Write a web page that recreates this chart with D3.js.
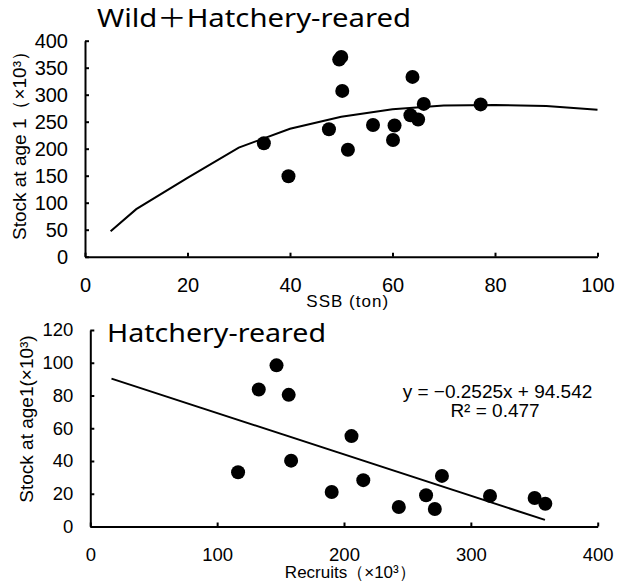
<!DOCTYPE html>
<html>
<head>
<meta charset="utf-8">
<script src="https://cdn.jsdelivr.net/npm/d3@7"></script>
<style>
  body { margin: 0; background: #fff; }
  svg { display: block; }
</style>
</head>
<body>
<div id="chart"></div>
<script>
// Top panel: wild + hatchery-reared, SSB vs stock at age 1
var ssb = [34.9, 39.7, 47.6, 49.6, 50.0, 50.2, 51.3, 56.2, 60.1, 60.4, 63.9, 63.5, 65.0, 66.1, 77.2]
var stockAll = [210, 149, 236, 365, 370, 307, 198, 244, 216, 243, 333, 262, 254, 283, 282]
var curveSSB = [5, 10, 20, 30, 40, 50, 60, 70, 80, 90, 100]
var curveStock = [47, 88, 146, 202, 237, 259, 273, 280, 281, 279, 272]
var ssbTicks = [0, 20, 40, 60, 80, 100]
var stockAllTicks = [0, 50, 100, 150, 200, 250, 300, 350, 400]

// Bottom panel: hatchery-reared, recruits vs stock at age 1
var recruits = [116.5, 132.8, 146.8, 156.4, 158.3, 190.3, 205.9, 215.2, 243.2, 264.7, 271.6, 277.2, 315.1, 350.3, 358.7]
var stockHatch = [33.1, 83.7, 98.4, 80.4, 40.2, 21.1, 55.2, 28.3, 11.9, 19.1, 10.7, 30.9, 18.7, 17.4, 13.9]
var trendRange = [16.7, 358.4]
var slope = -0.2525
var intercept = 94.542
var recruitTicks = [0, 100, 200, 300, 400]
var stockHatchTicks = [0, 20, 40, 60, 80, 100, 120]

var width = 617
var height = 583

var svg = d3.select('#chart')
  .append('svg')
  .attr('width', width)
  .attr('height', height)

var tickFont = '"Liberation Sans", Arial, sans-serif'
var titleFont = '"Noto Sans", "Noto Sans CJK JP", sans-serif'

function drawAxes(g, x, y, xTicks, yTicks, fontSize) {
  var xAxis = g.append('g')
    .attr('transform', 'translate(0,' + y.range()[0] + ')')
    .call(d3.axisBottom(x).tickValues(xTicks).tickSizeInner(-4).tickSizeOuter(0).tickPadding(21))
  var yAxis = g.append('g')
    .attr('transform', 'translate(' + x.range()[0] + ',0)')
    .call(d3.axisLeft(y).tickValues(yTicks).tickSizeInner(-4).tickSizeOuter(0).tickPadding(17))

  ;[xAxis, yAxis].forEach(function(a) {
    a.select('.domain').attr('stroke', '#000').attr('stroke-width', 2)
    a.selectAll('.tick line').attr('stroke', '#000').attr('stroke-width', 2)
    a.selectAll('.tick text')
      .attr('fill', '#000')
      .attr('font-family', tickFont)
      .attr('font-size', fontSize)
  })
}

// ---- top panel ----
var x1 = d3.scaleLinear().domain([0, 100]).range([85, 597.5])
var y1 = d3.scaleLinear().domain([0, 400]).range([256.7, 40.7])
var topPanel = svg.append('g')

drawAxes(topPanel, x1, y1, ssbTicks, stockAllTicks, 20)

var curve = curveSSB.map(function(d, i) { return [d, curveStock[i]] })
topPanel.append('path')
  .datum(curve)
  .attr('fill', 'none')
  .attr('stroke', '#000')
  .attr('stroke-width', 2)
  .attr('d', d3.line().x(function(d) { return x1(d[0]) }).y(function(d) { return y1(d[1]) }))

topPanel.selectAll('.dot')
  .data(ssb.map(function(d, i) { return [d, stockAll[i]] }))
  .enter().append('circle')
  .attr('class', 'dot')
  .attr('cx', function(d) { return x1(d[0]) })
  .attr('cy', function(d) { return y1(d[1]) })
  .attr('r', 7)
  .attr('fill', '#000')

// title font in the original is wider than anything installed, so stretch it
topPanel.append('text')
  .attr('x', 97)
  .attr('y', 27)
  .attr('font-family', titleFont)
  .attr('font-size', 25)
  .attr('textLength', 314)
  .attr('lengthAdjust', 'spacingAndGlyphs')
  .text('Wild＋Hatchery-reared')

topPanel.append('text')
  .attr('x', 347.7)
  .attr('y', 307.3)
  .attr('text-anchor', 'middle')
  .attr('font-family', tickFont)
  .attr('font-size', 17)
  .attr('letter-spacing', 1)
  .text('SSB (ton)')

topPanel.append('text')
  .attr('transform', 'translate(26,141) rotate(-90)')
  .attr('text-anchor', 'middle')
  .attr('font-family', tickFont)
  .attr('font-size', 19)
  .text('Stock at age 1（×10³）')

// ---- bottom panel ----
var x2 = d3.scaleLinear().domain([0, 400]).range([90.3, 597.7])
var y2 = d3.scaleLinear().domain([0, 120]).range([526.5, 330])
var bottomPanel = svg.append('g')

drawAxes(bottomPanel, x2, y2, recruitTicks, stockHatchTicks, 18.5)

bottomPanel.append('path')
  .datum(trendRange.map(function(d) { return [d, slope * d + intercept] }))
  .attr('fill', 'none')
  .attr('stroke', '#000')
  .attr('stroke-width', 2)
  .attr('d', d3.line().x(function(d) { return x2(d[0]) }).y(function(d) { return y2(d[1]) }))

bottomPanel.selectAll('.dot')
  .data(recruits.map(function(d, i) { return [d, stockHatch[i]] }))
  .enter().append('circle')
  .attr('class', 'dot')
  .attr('cx', function(d) { return x2(d[0]) })
  .attr('cy', function(d) { return y2(d[1]) })
  .attr('r', 7)
  .attr('fill', '#000')

bottomPanel.append('text')
  .attr('x', 107)
  .attr('y', 341.7)
  .attr('font-family', titleFont)
  .attr('font-size', 25)
  .attr('textLength', 219)
  .attr('lengthAdjust', 'spacingAndGlyphs')
  .text('Hatchery-reared')

var eq = bottomPanel.append('text')
  .attr('text-anchor', 'middle')
  .attr('font-family', tickFont)
  .attr('font-size', 19)
eq.append('tspan').attr('x', 497.5).attr('y', 397.7).text('y = −0.2525x + 94.542')
eq.append('tspan').attr('x', 495).attr('y', 417).text('R² = 0.477')

bottomPanel.append('text')
  .attr('x', 350.3)
  .attr('y', 578)
  .attr('text-anchor', 'middle')
  .attr('font-family', tickFont)
  .attr('font-size', 17)
  .text('Recruits（×10³）')

bottomPanel.append('text')
  .attr('transform', 'translate(33,419) rotate(-90)')
  .attr('text-anchor', 'middle')
  .attr('font-family', tickFont)
  .attr('font-size', 19)
  .text('Stock at age1(×10³)')
</script>
</body>
</html>
